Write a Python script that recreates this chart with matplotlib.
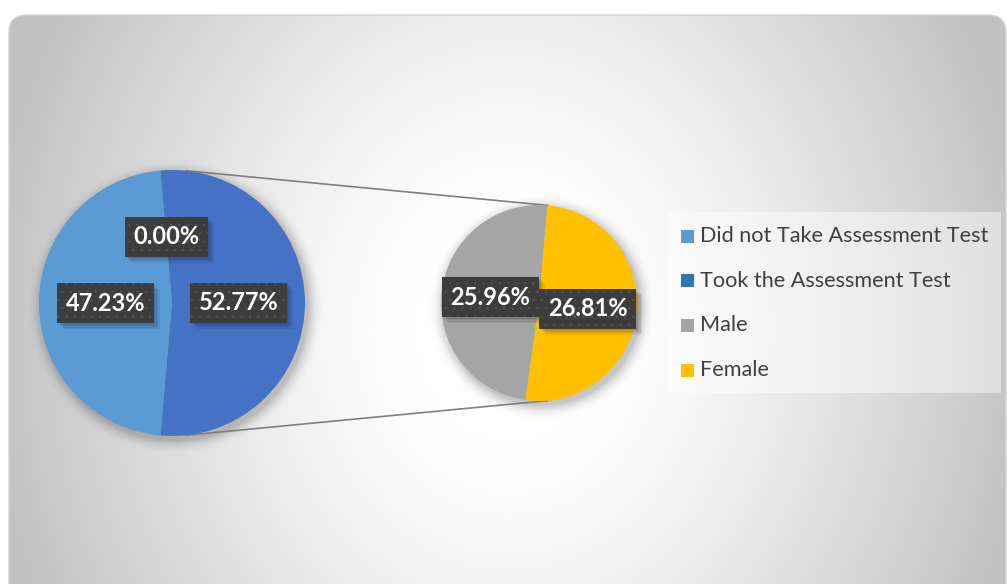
import numpy as np
import matplotlib.pyplot as plt
from matplotlib.patches import FancyBboxPatch, Rectangle

# main pie: did not take vs took; the second pie breaks the "took" group down
main_labels = ["Did not Take Assessment Test", "Took the Assessment Test"]
main_values = [47.23, 0.00]
main_colors = ["#5B9BD5", "#2E75B6"]
split_labels = ["Male", "Female"]
split_values = [25.96, 26.81]
split_colors = ["#A5A5A5", "#FFC000"]
other_color = "#4472C4"

plt.rcParams["hatch.linewidth"] = 0.4

W, H = 1007, 584
fig = plt.figure(figsize=(W / 100, H / 100), dpi=100)
fig.patch.set_facecolor("white")
ax = fig.add_axes([0, 0, 1, 1])

c1, r1 = (172, H - 303), 133
c2, r2 = (539, H - 303), 98

# radial grey background with soft shadows under the two pies
yy, xx = np.mgrid[0:H, 0:W] + 0.5
d = np.sqrt(((xx - 510) / 520.0) ** 2 + ((yy - 330) / 620.0) ** 2)
t = np.clip((d - 0.18) / 0.82, 0, 1)
bg = 1.0 - 0.24 * t ** 1.3
for (cx, cy), r in [(c1, r1), (c2, r2)]:
    dist = np.sqrt((xx - cx - 3) ** 2 + (yy - (H - cy) - 4) ** 2) - r
    shade = 0.22 * np.clip(1 - dist / 16.0, 0, 1) ** 2
    bg = bg * (1 - shade)
frame = FancyBboxPatch((9, -40), W - 10, H - 15 + 40,
                       boxstyle="round,pad=0,rounding_size=18",
                       fc="none", ec="#d4d4d4", lw=1, zorder=1)
ax.add_patch(frame)
im = ax.imshow(np.dstack([bg] * 3), extent=(0, W, 0, H), origin="upper",
               interpolation="bilinear", zorder=0)
im.set_clip_path(frame)

# connector lines between the "other" slice and the second pie
for s in (1, -1):
    a1, a2 = np.radians(84 * s), np.radians(85 * s)
    ax.plot([c1[0] + r1 * np.cos(a1), c2[0] + r2 * np.cos(a2)],
            [c1[1] + r1 * np.sin(a1), c2[1] + r2 * np.sin(a2)],
            color="#7f7f7f", lw=1.2, zorder=2)

left_vals = [main_values[0], sum(split_values), main_values[1]]
left_cols = [main_colors[0], other_color, main_colors[1]]
w1, _ = ax.pie(left_vals, colors=left_cols, startangle=95, radius=r1,
               center=c1, frame=True, wedgeprops=dict(linewidth=0, zorder=3))
w2, _ = ax.pie(split_values, colors=split_colors, startangle=85, radius=r2,
               center=c2, frame=True, wedgeprops=dict(linewidth=0, zorder=3))

labels = []


def add_label(wedge, value, center, r):
    mid = np.radians((wedge.theta1 + wedge.theta2) / 2)
    x = center[0] + 0.5 * r * np.cos(mid)
    y = center[1] + 0.5 * r * np.sin(mid)
    txt = ax.text(x, y, f"{value:.2f}%", ha="center", va="center",
                  color="white", fontsize=17, fontweight="bold",
                  family=["Lato", "DejaVu Sans"], zorder=5,
                  bbox=dict(boxstyle="square,pad=0.36", fc="#3d3d3d",
                            ec="#555555", lw=0, hatch=".."))
    labels.append(txt)


for w, v in zip(w1, left_vals):
    add_label(w, v, c1, r1)
for w, v in zip(w2, split_values):
    add_label(w, v, c2, r2)

ax.set_xlim(0, W)
ax.set_ylim(0, H)
ax.set_aspect("equal")
ax.axis("off")

# soft drop shadow under each label box: faint rectangles shifted down-right
fig.canvas.draw()
inv = ax.transData.inverted()
for txt in labels:
    bb = txt.get_bbox_patch().get_window_extent()
    (x0, y0), (x1, y1) = inv.transform([[bb.x0, bb.y0], [bb.x1, bb.y1]])
    for k in (1.5, 3.0, 4.5, 6.0):
        ax.add_patch(Rectangle((x0 + k, y0 - k), x1 - x0, y1 - y0,
                               fc="black", alpha=0.07, ec="none", zorder=4))

# legend
ax.add_patch(Rectangle((668, H - 393), 333, 181, fc="white", alpha=0.45,
                       ec="none", zorder=2))
for i, (lab, col) in enumerate(zip(main_labels + split_labels,
                                   main_colors + split_colors)):
    y = H - (236 + 44.7 * i)
    ax.add_patch(Rectangle((681, y - 6.5), 13, 13, fc=col, ec="none", zorder=3))
    ax.text(700, y, lab, ha="left", va="center", fontsize=15.6,
            color="#404040", family=["Lato", "DejaVu Sans"], zorder=3)

fig.savefig("out.png", dpi=100)
